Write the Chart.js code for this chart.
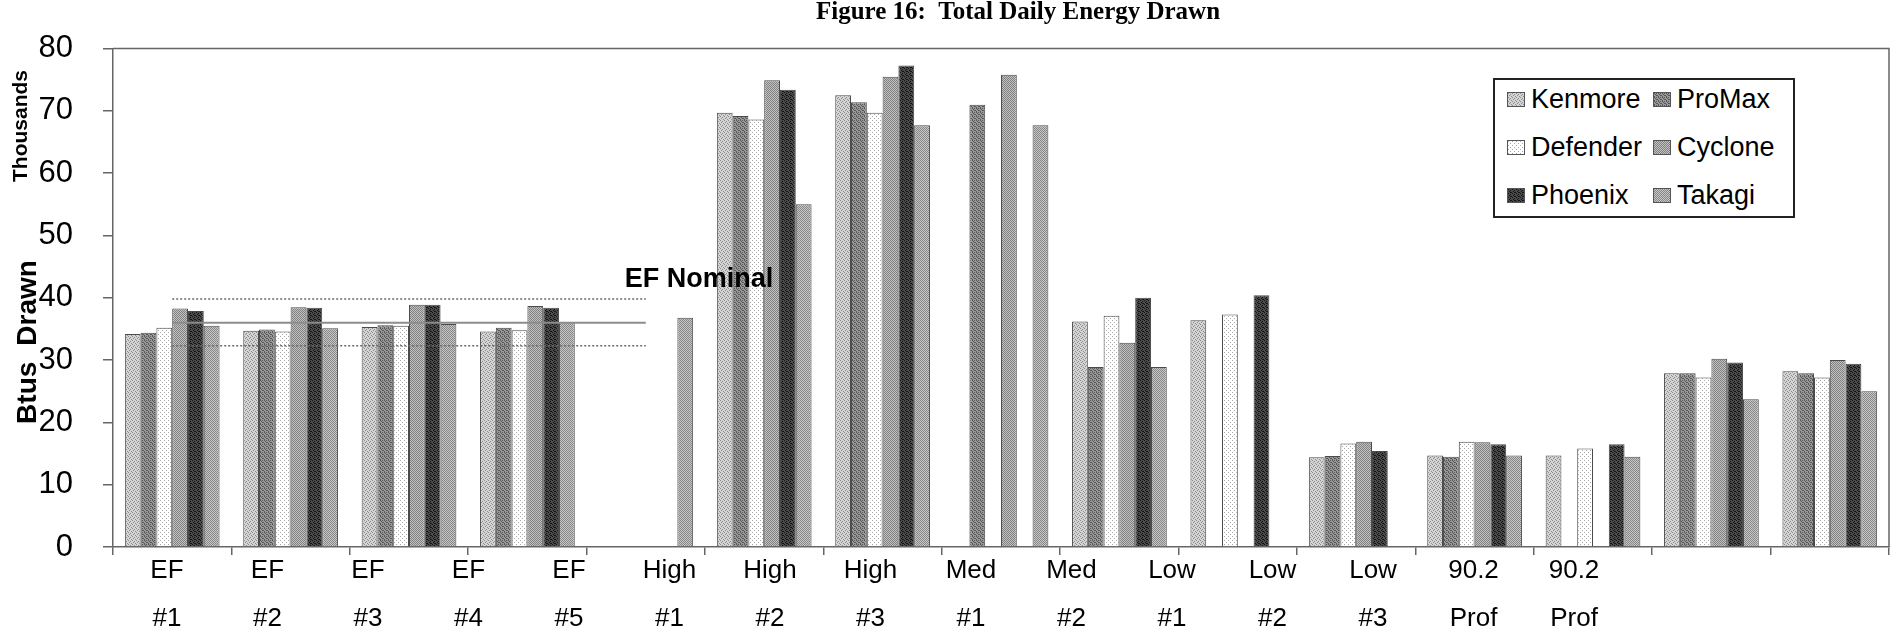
<!DOCTYPE html>
<html><head><meta charset="utf-8">
<script src="https://cdn.jsdelivr.net/npm/chart.js@4.4.1/dist/chart.umd.min.js"></script>
<style>
html,body{margin:0;padding:0;background:#fff;}
#wrap{position:relative;width:1896px;height:635px;overflow:hidden;}
#legend{position:absolute;left:1493px;top:78px;width:298px;height:136px;border:2px solid #222;background:#fff;font-family:'Liberation Sans',Arial,sans-serif;font-size:27px;color:#000;}
.item{position:absolute;display:flex;align-items:center;height:30px;white-space:nowrap;}
.sw{width:18px;height:15px;border:1px solid #555;margin-right:6px;box-sizing:border-box;background-repeat:repeat;}
</style></head><body>
<div id="wrap"><canvas id="c" width="1896" height="635"></canvas><div id="legend"></div></div>
<script>
// ---- data ----
const categories = [['EF','#1'],['EF','#2'],['EF','#3'],['EF','#4'],['EF','#5'],
  ['High','#1'],['High','#2'],['High','#3'],['Med','#1'],['Med','#2'],
  ['Low','#1'],['Low','#2'],['Low','#3'],['90.2','Prof'],['90.2','Prof']];
const seriesNames = ['Kenmore','ProMax','Defender','Cyclone','Phoenix','Takagi'];
const kenmore  = [34.2,34.7,35.3,34.6,null,69.7,72.5,null,36.2,36.4,14.4,14.7,14.7,27.9,28.2];
const proMax   = [34.4,34.9,35.6,35.2,null,69.2,71.4,71.0,28.9,null,14.6,14.5,null,27.9,27.9];
const defender = [35.2,34.6,35.5,34.8,null,68.6,69.7,null,37.1,37.3,16.6,16.9,15.8,27.2,27.2];
const cyclone  = [38.3,38.5,38.9,38.7,null,74.9,75.5,75.8,32.8,null,16.9,16.8,null,30.2,30.0];
const phoenix  = [37.9,38.4,38.9,38.4,null,73.4,77.3,null,40.0,40.4,15.4,16.5,16.5,29.6,29.4];
const takagi   = [35.5,35.1,35.8,36.1,36.8,55.0,67.7,67.7,28.9,null,null,14.7,14.5,23.7,25.0];
const efUpper  = [39.8,39.8,39.8,39.8,39.8,null,null,null,null,null,null,null,null,null,null];
const efMid    = [36.0,36.0,36.0,36.0,36.0,null,null,null,null,null,null,null,null,null,null];
const efLower  = [32.3,32.3,32.3,32.3,32.3,null,null,null,null,null,null,null,null,null,null];
const yTicks = {min:0, max:80, step:10};
const titleText = 'Figure 16:  Total Daily Energy Drawn';
const yTitleWords = ['Btus','Drawn'];
const yUnitText = 'Thousands';
const efLabel = 'EF Nominal';

// ---- styles ----
const SANS = "'Liberation Sans',Arial,sans-serif";
function makeTile(bg, fg, pts, size){
  const c=document.createElement('canvas'); c.width=c.height=size;
  const x=c.getContext('2d'); x.fillStyle=bg; x.fillRect(0,0,size,size);
  x.fillStyle=fg; pts.forEach(p=>x.fillRect(p[0],p[1],1,1)); return c;
}
const tiles = [
  makeTile('#d4d4d4','#8c8c8c',[[0,0],[2,1],[1,2],[3,3]],4),
  makeTile('#9a9a9a','#565656',[[0,0],[2,0],[1,1],[3,2],[0,3],[2,2]],4),
  makeTile('#ffffff','#a8a8a8',[[0,0],[2,2]],4),
  makeTile('#c0c0c0','#828282',[[0,0],[1,1],[2,0],[3,1],[0,2],[1,3],[2,2],[3,3]],4),
  makeTile('#4a4a4a','#141414',[[0,0],[2,1],[1,2],[3,3],[2,3]],4),
  makeTile('#c6c6c6','#888888',[[0,0],[1,1],[2,0],[3,1],[0,2],[1,3],[2,2],[3,3]],4)
];
const canvas=document.getElementById('c');
const ctx=canvas.getContext('2d');
const pats = tiles.map(t=>ctx.createPattern(t,'repeat'));
const seriesData=[kenmore,proMax,defender,cyclone,phoenix,takagi];

const decor={
  id:'decor',
  afterDraw(chart){
    const c=chart.ctx, a=chart.chartArea;
    c.save();
    c.strokeStyle='#666'; c.lineWidth=1.5;
    c.beginPath(); c.moveTo(a.left,a.top); c.lineTo(a.right,a.top); c.lineTo(a.right,a.bottom); c.stroke();
    c.fillStyle='#000'; c.textBaseline='middle';
    c.textAlign='center';
    c.font="bold 25px 'Liberation Serif','Times New Roman',serif";
    c.fillText(titleText,1018,13);
    // y-axis title: two words, rotated
    c.font="bold 28px "+SANS;
    const w1=c.measureText(yTitleWords[0]).width, w2=c.measureText(yTitleWords[1]).width, gap=16;
    const cy=342, total=w1+gap+w2;
    c.textAlign='center';
    c.save(); c.translate(28, cy+total/2-w1/2); c.rotate(-Math.PI/2);
    c.fillText(yTitleWords[0],0,0); c.restore();
    c.save(); c.translate(28, cy-total/2+w2/2); c.rotate(-Math.PI/2);
    c.fillText(yTitleWords[1],0,0); c.restore();
    c.save(); c.translate(21,126); c.rotate(-Math.PI/2);
    c.font="bold 21px "+SANS; c.fillText(yUnitText,0,0); c.restore();
    const xs=chart.scales.x, ys=chart.scales.y;
    c.textAlign='left';
    c.font="bold 27px "+SANS;
    c.fillText(efLabel, xs.getPixelForValue(4)-21, ys.getPixelForValue(efUpper[4])-19);
    c.restore();
  }
};

const datasets = seriesNames.map((n,i)=>({
  type:'bar', label:n, data:seriesData[i], backgroundColor:pats[i],
  borderColor:'#4a4a4a', borderWidth:1, order:2
}));
datasets.push(
  {type:'line',label:'EF upper',data:efUpper,borderColor:'#6a6a6a',borderWidth:1.5,borderDash:[2,2],pointRadius:0,fill:false,order:0},
  {type:'line',label:'EF nominal',data:efMid,borderColor:'#8c8c8c',borderWidth:2,pointRadius:0,fill:false,order:0},
  {type:'line',label:'EF lower',data:efLower,borderColor:'#6a6a6a',borderWidth:1.5,borderDash:[2,2],pointRadius:0,fill:false,order:0}
);

new Chart(ctx,{
  type:'bar',
  data:{labels:categories.map(c=>c.join(' ')),datasets},
  options:{
    responsive:false, animation:false, devicePixelRatio:1,
    layout:{padding:{left:0,right:7,top:43,bottom:0}},
    plugins:{legend:{display:false},tooltip:{enabled:false},title:{display:false}},
    datasets:{bar:{categoryPercentage:0.8,barPercentage:1.0}},
    scales:{
      x:{type:'category',offset:true,weight:0,
        grid:{display:true,drawOnChartArea:false,drawTicks:true,tickLength:8,color:'#666',lineWidth:1.5,offset:true},
        border:{display:true,color:'#666',width:1.5},
        ticks:{display:false}},
      xLab:{type:'linear',position:'bottom',weight:1,offset:false,min:-0.537,max:17.134,
        grid:{display:false,offset:false},border:{display:false},
        afterBuildTicks:s=>{s.ticks=categories.map((_,i)=>({value:i}));},
        afterFit:s=>{s.height=80;},
        ticks:{autoSkip:false,maxRotation:0,minRotation:0,padding:-16,color:'#000',
          font:{family:SANS,size:26,lineHeight:1.85},
          callback:v=>categories[v]}},
      y:{min:yTicks.min,max:yTicks.max,
        ticks:{stepSize:yTicks.step,padding:30,color:'#000',font:{family:SANS,size:31}},
        grid:{drawOnChartArea:false,tickLength:10,color:'#666',lineWidth:1.5},
        border:{color:'#666',width:1.5},
        afterFit:s=>{s.width=113;}}
    }
  },
  plugins:[decor]
});

// ---- HTML legend ----
const leg=document.getElementById('legend');
const pos=[[12,4],[158,4],[12,52],[158,52],[12,100],[158,100]];
seriesNames.forEach((name,k)=>{
  const d=document.createElement('div'); d.className='item';
  d.style.left=pos[k][0]+'px'; d.style.top=pos[k][1]+'px';
  const sw=document.createElement('span'); sw.className='sw';
  sw.style.backgroundImage='url('+tiles[k].toDataURL()+')';
  const t=document.createElement('span'); t.textContent=name;
  d.appendChild(sw); d.appendChild(t); leg.appendChild(d);
});
</script>
</body></html>
